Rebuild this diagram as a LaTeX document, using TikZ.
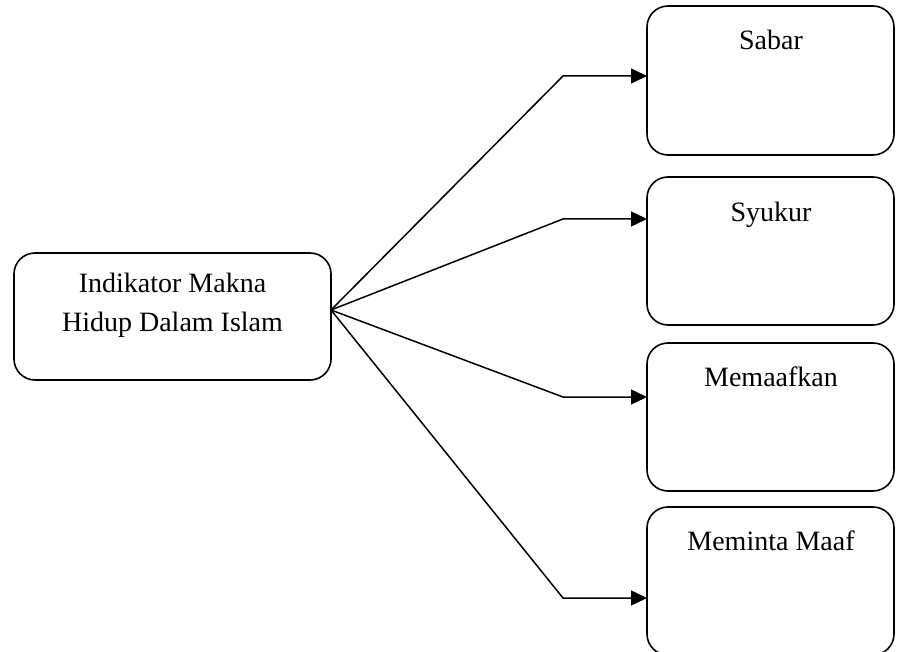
\documentclass[tikz,border=0pt]{standalone}
\usepackage{fontspec}
\setmainfont{Liberation Serif}
\usetikzlibrary{arrows.meta}
\begin{document}
\begin{tikzpicture}[x=1pt,y=-1pt,
  box/.style={draw,line width=1.6pt,rounded corners=21pt,inner sep=0pt,outer sep=0pt,minimum width=#1},
  lbl/.style={anchor=base,inner sep=0pt,font=\fontsize{28}{39}\selectfont},
  conn/.style={line width=1.5pt,line join=miter,-{Triangle[length=16pt,width=15pt]}}]
\useasboundingbox (0,0) rectangle (900,652);
\node[box=317pt,minimum height=127pt] (src) at (172.5,316.5) {};
\node[lbl] (t1) at (172.5,293) {Indikator Makna};
\node[lbl] (t2) at (172.5,332) {Hidup Dalam Islam};
\node[box=247pt,minimum height=149pt] (sabar) at (770.5,80.5) {};
\node[box=247pt,minimum height=148pt] (syukur) at (770.5,251) {};
\node[box=247pt,minimum height=148pt] (memaaf) at (770.5,417) {};
\node[box=247pt,minimum height=148pt] (minta) at (770.5,581) {};
\node[lbl] (ts) at (771,50) {Sabar};
\node[lbl] (ty) at (771,222) {Syukur};
\node[lbl] (tm) at (771,387) {Memaafkan};
\node[lbl] (tn) at (771,550) {Meminta Maaf};
\coordinate (o) at (331,310);
\coordinate (b1) at (563,76);
\coordinate (b2) at (563,219);
\coordinate (b3) at (563,397);
\coordinate (b4) at (563,598);
\draw[conn] (o) -- (b1) -- (sabar.west |- b1);
\draw[conn] (o) -- (b2) -- (syukur.west |- b2);
\draw[conn] (o) -- (b3) -- (memaaf.west |- b3);
\draw[conn] (o) -- (b4) -- (minta.west |- b4);
\end{tikzpicture}
\end{document}
